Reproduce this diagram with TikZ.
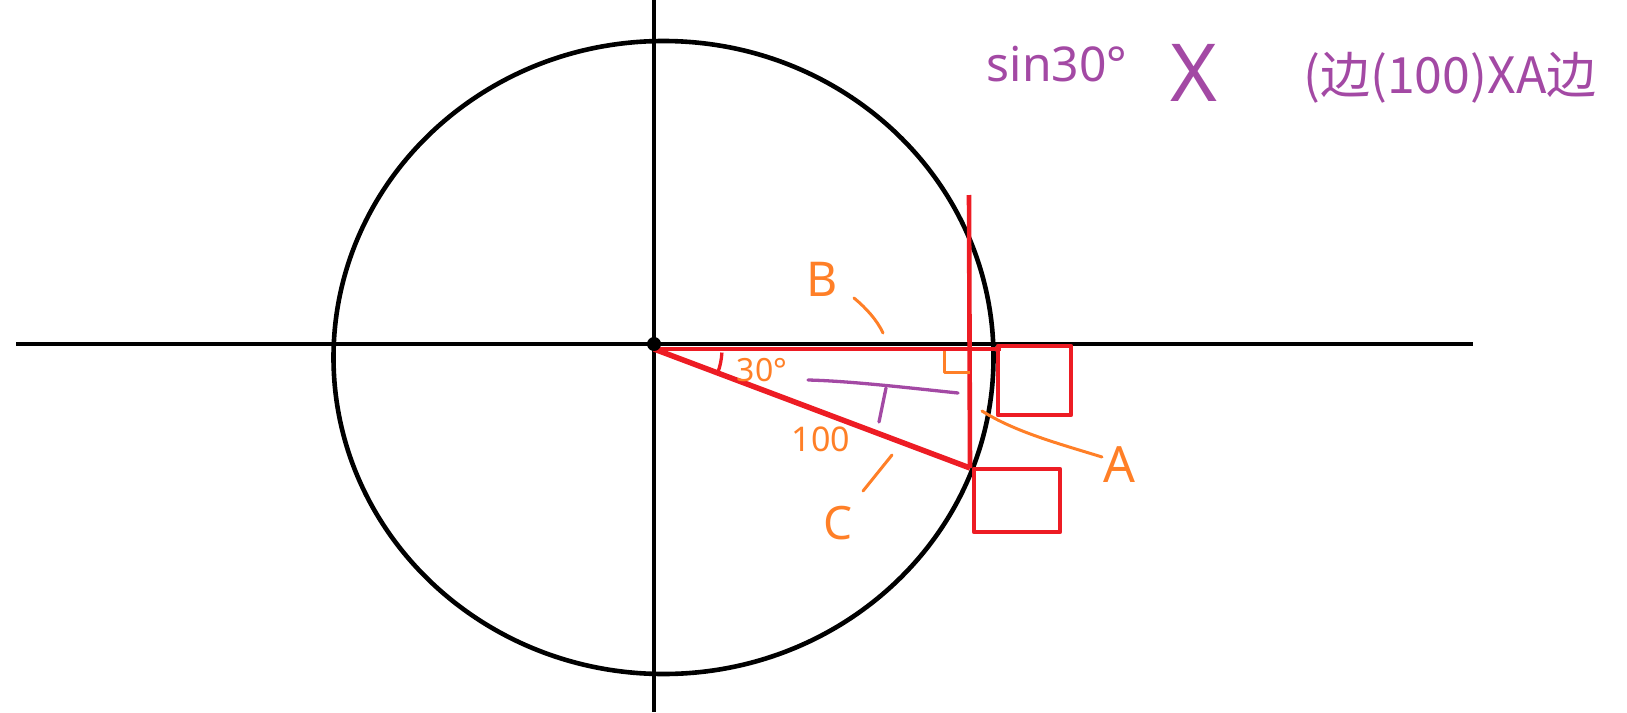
\documentclass[tikz,border=0pt]{standalone}
\usepackage{fontspec}
\setmainfont{Noto Sans}
\newfontfamily\cjk{Noto Sans CJK SC}
\definecolor{pred}{RGB}{237,28,36}
\definecolor{porange}{RGB}{255,127,39}
\definecolor{ppurple}{RGB}{163,73,164}
\tikzset{
  axisline/.style={line width=4.6pt, black},
  redline/.style={line width=4.6pt, pred},
  orangeline/.style={line width=3pt, porange, line cap=round},
  purpleline/.style={line width=3.3pt, ppurple, line cap=round},
  olabel/.style={text=porange, inner sep=0pt},
  plabel/.style={text=ppurple, inner sep=0pt},
}
\begin{document}
\begin{tikzpicture}[x=1pt,y=-1pt,line join=round]
\useasboundingbox (0,0) rectangle (1627,712);
% axes
\coordinate (xl) at (16,344);
\coordinate (xr) at (1473,344);
\coordinate (yt) at (654,0);
\coordinate (yb) at (654,712);
\coordinate (O) at (654,344);
\coordinate (C0) at (663.5,357.5);
\draw[axisline] (xl) -- (xr);
\draw[axisline] (yt) -- (yb);
\draw[axisline] (C0) ellipse [x radius=330, y radius=316.5];
% red triangle
\coordinate (P) at (654,349);
\coordinate (Q) at (1001,349);
\coordinate (R) at (970,468);
\coordinate (T) at (969,195);
\draw[redline] (P) -- (Q);
\draw[redline, line width=5.5pt] (P) -- (R);
\draw[redline] (T) -- (R);
\draw[pred, line width=3.3pt] (P) ++(3:68) arc[start angle=3, end angle=20, radius=68];
\draw[redline] (998,346) rectangle (1071,415);
\draw[redline] (974,469) rectangle (1060,532);
\fill[black] (O) circle (7);
% orange marks
\coordinate (ra1) at (944,351);
\coordinate (ra2) at (944,372);
\coordinate (ra3) at (970,372);
\draw[orangeline, line cap=butt] (ra1) -- (ra2) -- (ra3);
\coordinate (tb1) at (854,298);
\coordinate (tb2) at (883,333);
\draw[orangeline] (tb1) .. controls (866,308) and (877,320) .. (tb2);
\coordinate (tc1) at (892,455);
\coordinate (tc2) at (863,491);
\draw[orangeline] (tc1) -- (tc2);
\coordinate (ta1) at (982,411);
\coordinate (ta2) at (1102,457);
\draw[orangeline] (ta1) .. controls (1015,432) and (1060,444) .. (ta2);
% purple marks
\coordinate (pl1) at (808,380);
\coordinate (pl2) at (958,393);
\coordinate (pt1) at (886,388);
\coordinate (pt2) at (879,422);
\draw[purpleline] (pl1) .. controls (850,381) and (910,388) .. (pl2);
\draw[purpleline] (pt1) -- (pt2);
% orange labels
\node[olabel, font=\fontsize{48}{48}\selectfont] (lB) at (822,279) {B};
\node[olabel, font=\fontsize{32}{32}\selectfont] (l30) at (762,370) {30°};
\node[olabel, font=\fontsize{34}{34}\selectfont] (l100) at (821,439) {100};
\node[olabel, font=\fontsize{46}{46}\selectfont] (lC) at (838,523) {C};
\node[olabel, font=\fontsize{50}{50}\selectfont] (lA) at (1119,465) {A};
% purple formula
\node[plabel, font=\fontsize{48}{48}\selectfont] (fs) at (1057,64) {sin30°};
\node[plabel, font=\fontsize{80}{80}\selectfont] (fx) at (1194,73) {X};
\node[plabel, font=\cjk\fontsize{50}{50}\selectfont] (fr) at (1450,78) {(边(100)XA边};
\end{tikzpicture}
\end{document}
